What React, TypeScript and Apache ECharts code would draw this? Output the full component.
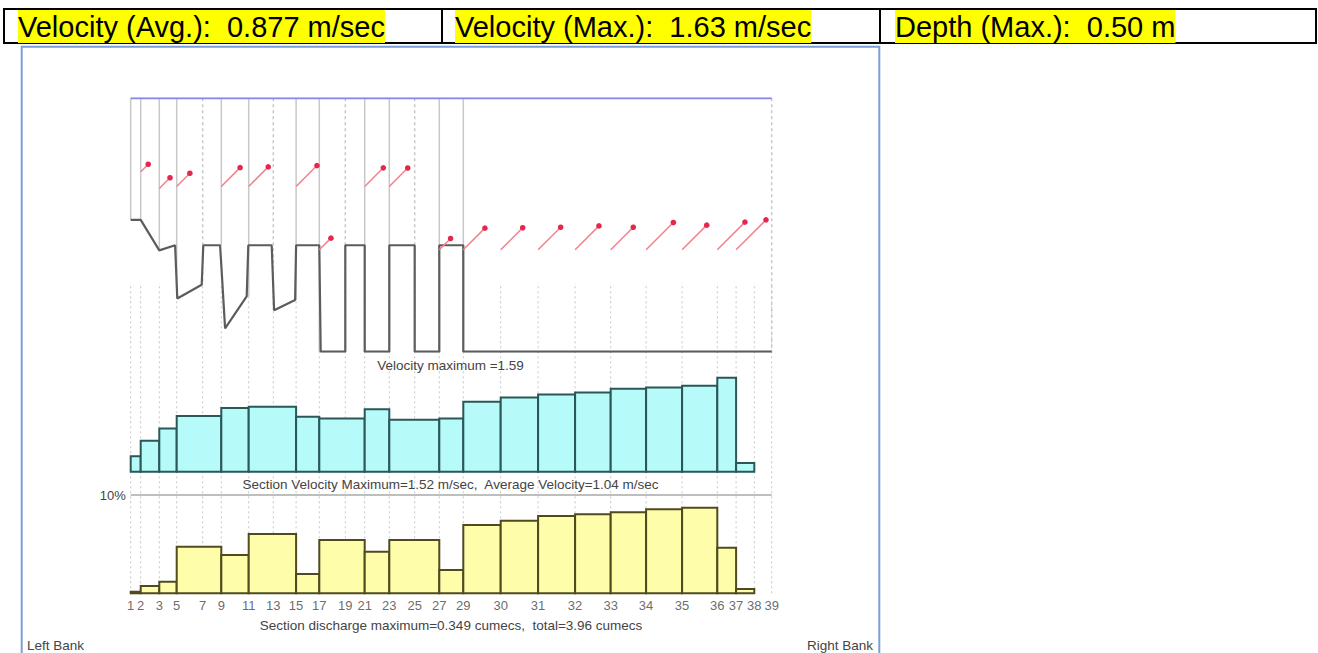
import React, { useEffect, useRef } from 'react';
import * as echarts from 'echarts';

// ---- data ----
const headerTexts = ['Velocity (Avg.):  0.877 m/sec', 'Velocity (Max.):  1.63 m/sec', 'Depth (Max.):  0.50 m'];

const stationLabels = ['1', '2', '3', '5', '7', '9', '11', '13', '15', '17', '19', '21', '23', '25', '27', '29', '30', '31', '32', '33', '34', '35', '36', '37', '38', '39'];
const stationDist = [0, 0.5, 1.43, 2.3, 3.6, 4.53, 5.9, 7.13, 8.27, 9.43, 10.73, 11.7, 12.93, 14.2, 15.43, 16.63, 18.5, 20.37, 22.22, 24.0, 25.77, 27.57, 29.33, 30.27, 31.18, 32.05];

// river bed profile (distance m, depth m)
const bedDist = [0, 0.5, 1.43, 2.22, 2.33, 3.55, 3.63, 4.47, 4.72, 5.8, 5.88, 7.05, 7.17, 8.22, 8.27, 9.43, 9.5, 10.73, 10.73, 11.7, 11.7, 12.93, 12.93, 14.2, 14.2, 15.43, 15.43, 16.63, 16.63, 32.05];
const bedDepth = [0.24, 0.24, 0.3, 0.29, 0.395, 0.368, 0.29, 0.29, 0.454, 0.391, 0.29, 0.29, 0.418, 0.398, 0.29, 0.29, 0.5, 0.5, 0.29, 0.29, 0.5, 0.5, 0.29, 0.29, 0.5, 0.5, 0.29, 0.29, 0.5, 0.5];

// point velocities (arrows)
const arrowStations = ['2', '3', '5', '9', '11', '15', '17', '21', '23', '27', '29', '30', '31', '32', '33', '34', '35', '36', '37'];
const arrowDepth = [0.145, 0.178, 0.174, 0.174, 0.174, 0.174, 0.299, 0.174, 0.174, 0.299, 0.299, 0.299, 0.299, 0.299, 0.299, 0.299, 0.299, 0.299, 0.299];
const arrowVelocity = [0.4, 0.57, 0.7, 1.0, 1.04, 1.11, 0.62, 0.99, 0.98, 0.6, 1.15, 1.17, 1.2, 1.27, 1.2, 1.45, 1.31, 1.47, 1.59];

// sections
const sectionBounds = ['1', '2', '3', '5', '9', '11', '15', '17', '21', '23', '27', '29', '30', '31', '32', '33', '34', '35', '36', '37', '38'];
const sectionVelocity = [0.25, 0.5, 0.7, 0.9, 1.03, 1.05, 0.89, 0.86, 1.01, 0.84, 0.86, 1.13, 1.2, 1.25, 1.28, 1.34, 1.36, 1.39, 1.52, 0.14];
const sectionDischargePct = [0.16, 0.74, 1.18, 4.74, 3.9, 6.03, 1.96, 5.42, 4.23, 5.42, 2.37, 6.95, 7.39, 7.86, 8.04, 8.24, 8.55, 8.71, 4.64, 0.44];

const velocityMaxText = 'Velocity maximum =1.59';
const sectionVelocityText = 'Section Velocity Maximum=1.52 m/sec,  Average Velocity=1.04 m/sec';
const dischargeText = 'Section discharge maximum=0.349 cumecs,  total=3.96 cumecs';

const FONT = '"Liberation Sans", Arial, sans-serif';
const distOf = (lab: string) => stationDist[stationLabels.indexOf(lab)];

function buildOption(): any {
  const xMax = stationDist[stationDist.length - 1];
  const gridLeft = 130.7;
  const gridWidth = 641;

  const stationLineData = stationDist.map((d) => {
    let maxD = 0;
    bedDist.forEach((bd, i) => {
      if (Math.abs(bd - d) < 0.12) maxD = Math.max(maxD, bedDepth[i]);
    });
    const solid = sectionBounds.indexOf(stationLabels[stationDist.indexOf(d)]) >= 0 ? 1 : 0;
    return [d, maxD, solid];
  });

  const arrowData = arrowStations.map((s, i) => [distOf(s), arrowDepth[i], arrowVelocity[i]]);
  const cyanData = sectionVelocity.map((v, i) => [distOf(sectionBounds[i]), distOf(sectionBounds[i + 1]), v]);
  const yellowData = sectionDischargePct.map((v, i) => [distOf(sectionBounds[i]), distOf(sectionBounds[i + 1]), v]);

  const ax = 0.94; // arrow length: distance units per m/s
  const ay = 0.0372; // arrow rise: depth units per m/s

  const xAxisBase = { type: 'value', min: 0, max: xMax, show: false };

  const rectItem = (fill: string, stroke: string) => (params: any, api: any) => {
    const p0 = api.coord([api.value(0), api.value(2)]);
    const p1 = api.coord([api.value(1), 0]);
    return {
      type: 'rect',
      shape: { x: p0[0], y: p0[1], width: p1[0] - p0[0], height: p1[1] - p0[1] },
      style: { fill, stroke, lineWidth: 2 },
    };
  };

  const headerX = [18, 455, 895];

  return {
    animation: false,
    backgroundColor: '#ffffff',
    grid: [
      { left: gridLeft, top: 98.3, width: gridWidth, height: 253.4 },
      { left: gridLeft, top: 283.7, width: gridWidth, height: 188 },
      { left: gridLeft, top: 495, width: gridWidth, height: 98.3 },
      { left: gridLeft, top: 283, width: gridWidth, height: 310.3 },
    ],
    xAxis: [
      { ...xAxisBase, gridIndex: 0 },
      { ...xAxisBase, gridIndex: 1 },
      { ...xAxisBase, gridIndex: 2 },
      { ...xAxisBase, gridIndex: 3 },
    ],
    yAxis: [
      { type: 'value', gridIndex: 0, min: 0, max: 0.5, inverse: true, show: false },
      { type: 'value', gridIndex: 1, min: 0, max: 3.04, show: false },
      {
        type: 'value', gridIndex: 2, min: 0, max: 10, interval: 10,
        axisLine: { show: false }, axisTick: { show: false }, splitLine: { show: false },
        axisLabel: { formatter: (v: number) => (v === 10 ? '10%' : ''), fontSize: 13, color: '#444', margin: 5, fontFamily: FONT },
      },
      { type: 'value', gridIndex: 3, min: 0, max: 1, show: false },
    ],
    series: [
      {
        type: 'custom', xAxisIndex: 3, yAxisIndex: 3, silent: true, z: 1,
        data: stationDist.map((d) => [d, 0]),
        encode: { x: 0, y: 1 },
        renderItem: (params: any, api: any) => {
          const p0 = api.coord([api.value(0), 0]);
          const p1 = api.coord([api.value(0), 1]);
          return {
            type: 'line',
            shape: { x1: p0[0], y1: p0[1], x2: p1[0], y2: p1[1] },
            style: { stroke: '#c6c6c6', lineWidth: 1, lineDash: [2, 3] },
          };
        },
      },
      {
        type: 'custom', xAxisIndex: 0, yAxisIndex: 0, silent: true, z: 2,
        data: stationLineData,
        encode: { x: 0, y: 1 },
        renderItem: (params: any, api: any) => {
          const p0 = api.coord([api.value(0), 0]);
          const p1 = api.coord([api.value(0), api.value(1)]);
          return {
            type: 'line',
            shape: { x1: p0[0], y1: p0[1], x2: p1[0], y2: p1[1] },
            style: { stroke: '#c8c8c8', lineWidth: 1.5, lineDash: api.value(2) ? null : [3, 3] },
          };
        },
      },
      {
        type: 'line', xAxisIndex: 0, yAxisIndex: 0, z: 3, silent: true,
        data: [[0, 0], [xMax, 0]], symbol: 'none',
        lineStyle: { color: '#8787ee', width: 2 },
      },
      {
        type: 'line', xAxisIndex: 0, yAxisIndex: 0, z: 4, silent: true,
        data: bedDist.map((d, i) => [d, bedDepth[i]]), symbol: 'none',
        lineStyle: { color: '#5c5c5c', width: 2.2 },
      },
      {
        type: 'custom', xAxisIndex: 0, yAxisIndex: 0, silent: true, z: 5,
        data: arrowData,
        encode: { x: 0, y: 1 },
        renderItem: (params: any, api: any) => {
          const d = api.value(0), dep = api.value(1), v = api.value(2);
          const p0 = api.coord([d, dep]);
          const p1 = api.coord([d + v * ax, dep - v * ay]);
          return {
            type: 'group',
            children: [
              { type: 'line', shape: { x1: p0[0], y1: p0[1], x2: p1[0], y2: p1[1] }, style: { stroke: '#f4808e', lineWidth: 1.5 } },
              { type: 'circle', shape: { cx: p1[0], cy: p1[1], r: 2.8 }, style: { fill: '#e5274c' } },
            ],
          };
        },
      },
      {
        type: 'custom', xAxisIndex: 1, yAxisIndex: 1, silent: true, z: 5,
        data: cyanData,
        encode: { x: [0, 1], y: 2 },
        renderItem: rectItem('#b6fafa', '#2b5757'),
      },
      {
        type: 'custom', xAxisIndex: 2, yAxisIndex: 2, silent: true, z: 5,
        data: yellowData,
        encode: { x: [0, 1], y: 2 },
        renderItem: rectItem('#fdfdaa', '#4f4b1e'),
        markLine: {
          silent: true, symbol: 'none', label: { show: false },
          lineStyle: { color: '#a9a9a9', width: 1.5, type: 'solid' },
          data: [{ yAxis: 10 }],
        },
      },
      {
        type: 'scatter', xAxisIndex: 2, yAxisIndex: 2, silent: true, z: 6,
        data: stationDist.map((d) => [d, 0]),
        symbolSize: 1, itemStyle: { color: 'rgba(0,0,0,0)' },
        label: {
          show: true, position: 'bottom', distance: 5,
          formatter: (p: any) => stationLabels[p.dataIndex],
          fontSize: 13, color: '#444', fontFamily: FONT,
        },
      },
    ],
    graphic: [
      // header table
      { type: 'rect', shape: { x: 4, y: 9, width: 1312, height: 34 }, style: { fill: 'none', stroke: '#000', lineWidth: 2 }, z: 10 },
      { type: 'line', shape: { x1: 442, y1: 9, x2: 442, y2: 43 }, style: { stroke: '#000', lineWidth: 2 }, z: 10 },
      { type: 'line', shape: { x1: 880, y1: 9, x2: 880, y2: 43 }, style: { stroke: '#000', lineWidth: 2 }, z: 10 },
      ...headerTexts.map((t, i) => ({
        type: 'text', x: headerX[i], y: 26.5, z: 11,
        style: {
          text: t, font: `29px ${FONT}`, fill: '#000', backgroundColor: '#ffff00', lineHeight: 33,
          align: 'left', verticalAlign: 'middle', textAlign: 'left', textVerticalAlign: 'middle',
        },
      })),
      // chart frame
      { type: 'rect', shape: { x: 21.7, y: 46.7, width: 857.6, height: 640 }, style: { fill: 'none', stroke: '#7a9fd6', lineWidth: 2 }, z: 10 },
      // captions
      ...[
        { t: velocityMaxText, x: 450.5, y: 365, a: 'center' },
        { t: sectionVelocityText, x: 450.5, y: 484, a: 'center' },
        { t: dischargeText, x: 451, y: 625, a: 'center' },
        { t: 'Left Bank', x: 27, y: 645, a: 'left' },
        { t: 'Right Bank', x: 873, y: 645, a: 'right' },
      ].map((c) => ({
        type: 'text', x: c.x, y: c.y, z: 11,
        style: {
          text: c.t, font: `13.5px ${FONT}`, fill: '#444',
          align: c.a, verticalAlign: 'middle', textAlign: c.a, textVerticalAlign: 'middle',
        },
      })),
    ],
  };
}

export default function App() {
  const ref = useRef<HTMLDivElement>(null);
  useEffect(() => {
    const chart = echarts.init(ref.current!, null, { renderer: 'svg' });
    chart.setOption(buildOption());
    return () => chart.dispose();
  }, []);
  return (
    <div
      ref={ref}
      style={{ position: 'absolute', left: 0, top: 0, width: 1318, height: 653, background: '#fff' }}
    />
  );
}
